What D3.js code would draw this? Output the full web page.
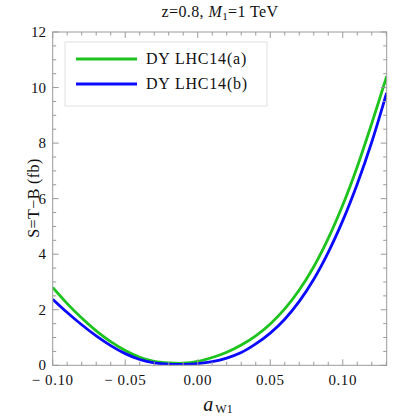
<!DOCTYPE html>
<html>
<head>
<meta charset="utf-8">
<script src="https://cdn.jsdelivr.net/npm/d3@7"></script>
<style>
  body { margin: 0; background: #fff; }
  svg { display: block; }
  text { font-family: "Liberation Serif", "Times New Roman", "DejaVu Serif", serif; }
</style>
</head>
<body>
<div id="chart"></div>
<script>
// values
const aW1 = [-0.10, -0.09, -0.08, -0.07, -0.06, -0.05, -0.04, -0.03, -0.02, -0.01, 0.00,
  0.01, 0.02, 0.03, 0.04, 0.05, 0.06, 0.07, 0.08, 0.09, 0.10, 0.11, 0.12, 0.13, 0.1303];
const lhc14a = [2.80, 2.22, 1.70, 1.24, 0.85, 0.53, 0.29, 0.14, 0.085, 0.075, 0.14,
  0.28, 0.47, 0.73, 1.06, 1.49, 2.03, 2.71, 3.55, 4.57, 5.77, 7.15, 8.71, 10.36, 10.41];
const lhc14b = [2.38, 1.90, 1.46, 1.06, 0.71, 0.42, 0.21, 0.09, 0.04, 0.035, 0.06,
  0.13, 0.26, 0.46, 0.77, 1.16, 1.66, 2.30, 3.10, 4.07, 5.21, 6.53, 8.04, 9.76, 9.81];
const seriesNames = ["DY LHC14(a)", "DY LHC14(b)"];
const seriesColors = ["#1ec41e", "#0a0aff"];
const xTicks = [-0.10, -0.05, 0.00, 0.05, 0.10];
const yTicks = [0, 2, 4, 6, 8, 10, 12];

const width = 420, height = 420;
const plotLeft = 52.7, plotRight = 386.7, plotTop = 32, plotBottom = 365.3;
const serif = "'Liberation Serif', 'Times New Roman', 'DejaVu Serif', serif";

const svg = d3.select("#chart").append("svg")
  .attr("width", width)
  .attr("height", height)
  .attr("font-family", serif);

const x = d3.scaleLinear().domain([-0.10, 0.1303]).range([plotLeft, plotRight]);
const y = d3.scaleLinear().domain([0, 12]).range([plotBottom, plotTop]);

svg.append("clipPath").attr("id", "clip")
  .append("rect")
  .attr("x", plotLeft).attr("y", plotTop)
  .attr("width", plotRight - plotLeft).attr("height", plotBottom - plotTop);

// curves
const series = [lhc14a, lhc14b];
const line = d3.line()
  .x((d, i) => x(aW1[i]))
  .y(d => y(d))
  .curve(d3.curveCatmullRom);

svg.append("g").attr("clip-path", "url(#clip)")
  .selectAll("path")
  .data(series)
  .enter()
  .append("path")
  .attr("d", d => line(d))
  .attr("fill", "none")
  .attr("stroke", (d, i) => seriesColors[i])
  .attr("stroke-width", 2.8);

// frame with ticks on all sides, pointing inward
const frameColor = "#9a9a9a";
const frame = svg.append("g").attr("stroke", frameColor).attr("stroke-width", 1);
frame.append("rect")
  .attr("x", plotLeft).attr("y", plotTop)
  .attr("width", plotRight - plotLeft).attr("height", plotBottom - plotTop)
  .attr("fill", "none");

const xMinor = d3.range(-10, 14).map(v => v / 100);
const yMinor = d3.range(0, 24.5).map(v => v / 2);

xMinor.forEach(v => {
  const major = xTicks.some(t => Math.abs(t - v) < 1e-9);
  const len = major ? 6 : 3.5;
  const px = x(v);
  frame.append("line").attr("x1", px).attr("x2", px).attr("y1", plotBottom).attr("y2", plotBottom - len);
  frame.append("line").attr("x1", px).attr("x2", px).attr("y1", plotTop).attr("y2", plotTop + len);
});
yMinor.forEach(v => {
  const major = yTicks.includes(v);
  const len = major ? 6 : 3.5;
  const py = y(v);
  frame.append("line").attr("y1", py).attr("y2", py).attr("x1", plotLeft).attr("x2", plotLeft + len);
  frame.append("line").attr("y1", py).attr("y2", py).attr("x1", plotRight).attr("x2", plotRight - len);
});

// tick labels
const fmtX = d => (d < 0 ? "\u2212 " : "") + Math.abs(d).toFixed(2);
svg.append("g").selectAll("text")
  .data(xTicks)
  .enter()
  .append("text")
  .attr("x", d => x(d))
  .attr("y", 385)
  .attr("text-anchor", "middle")
  .attr("font-size", 15)
  .attr("letter-spacing", 0.6)
  .attr("fill", "#111")
  .text(fmtX);

svg.append("g").selectAll("text")
  .data(yTicks)
  .enter()
  .append("text")
  .attr("x", 46)
  .attr("y", d => y(d) + 5)
  .attr("text-anchor", "end")
  .attr("font-size", 15)
  .attr("fill", "#111")
  .text(d => d);

// title
const title = svg.append("text")
  .attr("x", 220)
  .attr("y", 17)
  .attr("text-anchor", "middle")
  .attr("font-size", 16)
  .attr("letter-spacing", 0.4)
  .attr("fill", "#111");
title.append("tspan").text("z=0.8, ");
title.append("tspan").attr("font-style", "italic").text("M");
title.append("tspan").attr("font-size", 11).attr("dy", 3).text("1");
title.append("tspan").attr("dy", -3).text("=1 TeV");

// axis labels
svg.append("text")
  .attr("transform", "translate(39,198) rotate(-90)")
  .attr("text-anchor", "middle")
  .attr("font-size", 16)
  .attr("letter-spacing", 0.4)
  .attr("fill", "#111")
  .text("S=T\u2212B (fb)");

const xLabel = svg.append("text")
  .attr("x", 218)
  .attr("y", 411)
  .attr("text-anchor", "middle")
  .attr("fill", "#111");
xLabel.append("tspan").attr("font-style", "italic").attr("font-size", 20).text("a");
xLabel.append("tspan").attr("font-size", 12).attr("dx", 2).attr("dy", 2).text("W1");

// legend
const legend = svg.append("g");
legend.append("rect")
  .attr("x", 65).attr("y", 42)
  .attr("width", 202).attr("height", 64)
  .attr("fill", "#fff")
  .attr("stroke", "#e0e0e0");

seriesNames.forEach((name, i) => {
  const ly = 59 + i * 25;
  legend.append("line")
    .attr("x1", 76).attr("x2", 137)
    .attr("y1", ly).attr("y2", ly)
    .attr("stroke", seriesColors[i])
    .attr("stroke-width", 2.8);
  legend.append("text")
    .attr("x", 146)
    .attr("y", ly + 5)
    .attr("font-size", 16)
    .attr("letter-spacing", 0.8)
    .attr("fill", "#111")
    .text(name);
});
</script>
</body>
</html>
